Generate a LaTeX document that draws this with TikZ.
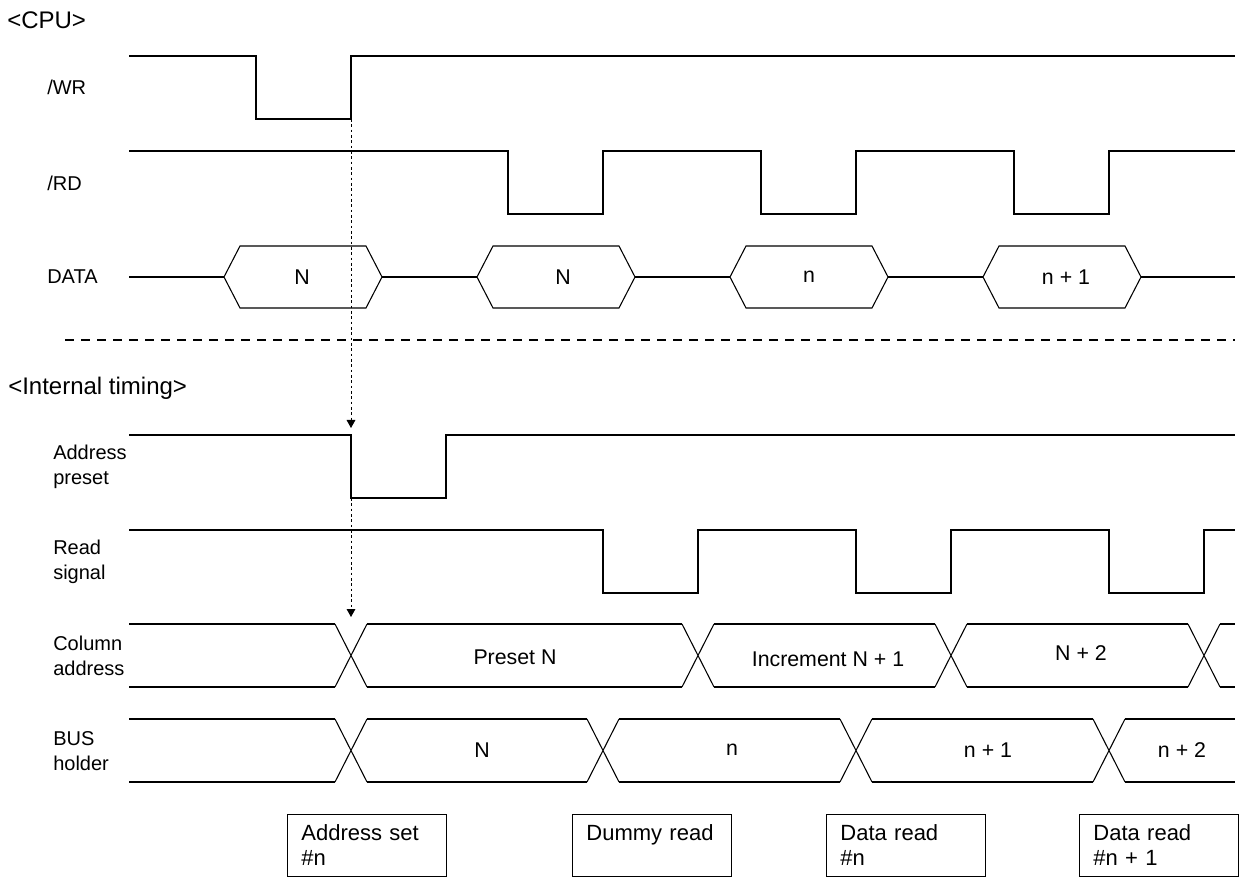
\documentclass[tikz,border=0pt]{standalone}
\usepackage{fontspec}
\setmainfont{Liberation Sans}
\usetikzlibrary{arrows.meta}

\begin{document}
\begin{tikzpicture}[
    x=0.75pt, y=-0.75pt,
    sig/.style={draw=black, line width=0.8pt},
    head/.style={anchor=west, inner sep=0pt, font=\fontsize{18}{21}\selectfont},
    lbl/.style={anchor=west, inner sep=0pt, align=left, font=\fontsize{15}{18.75}\selectfont},
    val/.style={inner sep=0pt, font=\fontsize{16}{19}\selectfont},
    sepline/.style={line width=0.8pt, dash pattern=on 7pt off 5pt},
    dotarr/.style={line width=0.7pt, dash pattern=on 2pt off 2pt,
                   -{Triangle[length=6pt,width=6.5pt]}},
    box/.style={draw, line width=0.6pt, anchor=north west, minimum width=118.5pt,
                minimum height=46.5pt, text width=98pt, inner xsep=10.5pt, align=left,
                font=\fontsize{16.5}{18.75}\selectfont},
  ]
  \useasboundingbox (0,0) rectangle (1240,877);

  % CPU side
  \node[head] (cpu) at (7,20) {<CPU>};
  \node[lbl] (wr)   at (47,87)  {/WR};
  \node[lbl] (rd)   at (47,183) {/RD};
  \node[lbl] (data) at (47,277) {DATA};

  \draw[sig] (129,56) -- (256,56) -- (256,119) -- (351,119) -- (351,56) -- (1235,56);
  \draw[sig] (129,151) -- (508,151) -- (508,214) -- (603,214) -- (603,151)
    -- (761,151) -- (761,214) -- (856,214) -- (856,151)
    -- (1014,151) -- (1014,214) -- (1109,214) -- (1109,151) -- (1235,151);

  \draw[sig] (129,277) -- (224,277);
  \draw[sig] (224,277) -- (240,246) -- (366,246) -- (382,277) -- (366,308) -- (240,308) -- cycle;
  \draw[sig] (382,277) -- (477,277);
  \draw[sig] (477,277) -- (493,246) -- (619,246) -- (635,277) -- (619,308) -- (493,308) -- cycle;
  \draw[sig] (635,277) -- (730,277);
  \draw[sig] (730,277) -- (746,246) -- (872,246) -- (888,277) -- (872,308) -- (746,308) -- cycle;
  \draw[sig] (888,277) -- (983,277);
  \draw[sig] (983,277) -- (999,246) -- (1125,246) -- (1141,277) -- (1125,308) -- (999,308) -- cycle;
  \draw[sig] (1141,277) -- (1235,277);
  \node[val] (d1) at (302,277)  {N};
  \node[val] (d2) at (563,277)  {N};
  \node[val] (d3) at (809,277)  {n};
  \node[val] (d4) at (1066,277) {n + 1};

  \draw[sepline] (65,340) -- (1235,340);

  % internal side
  \node[head] (intl) at (8,388) {<Internal timing>};
  \node[lbl] (ap) at (53,467) {Address\\preset};
  \node[lbl] (rs) at (53,562) {Read\\signal};
  \node[lbl] (ca) at (53,656) {Column\\address};
  \node[lbl] (bh) at (53,751) {BUS\\holder};

  \draw[sig] (129,435) -- (351,435) -- (351,498) -- (446,498) -- (446,435) -- (1235,435);
  \draw[sig] (129,530) -- (603,530) -- (603,593) -- (698,593) -- (698,530)
    -- (856,530) -- (856,593) -- (951,593) -- (951,530)
    -- (1109,530) -- (1109,593) -- (1204,593) -- (1204,530) -- (1235,530);

  \draw[sig] (129,624) -- (335,624) (129,687) -- (335,687);
  \draw[sig] (335,624) -- (367,687) (335,687) -- (367,624);
  \draw[sig] (367,624) -- (682,624) (367,687) -- (682,687);
  \draw[sig] (682,624) -- (714,687) (682,687) -- (714,624);
  \draw[sig] (714,624) -- (935,624) (714,687) -- (935,687);
  \draw[sig] (935,624) -- (967,687) (935,687) -- (967,624);
  \draw[sig] (967,624) -- (1188,624) (967,687) -- (1188,687);
  \draw[sig] (1188,624) -- (1220,687) (1188,687) -- (1220,624);
  \draw[sig] (1220,624) -- (1235,624) (1220,687) -- (1235,687);
  \node[val] (c1) at (515,657)  {Preset N};
  \node[val] (c2) at (828,659)  {Increment N + 1};
  \node[val] (c3) at (1081,653) {N + 2};

  \draw[sig] (129,719) -- (335,719) (129,782) -- (335,782);
  \draw[sig] (335,719) -- (367,782) (335,782) -- (367,719);
  \draw[sig] (367,719) -- (587,719) (367,782) -- (587,782);
  \draw[sig] (587,719) -- (619,782) (587,782) -- (619,719);
  \draw[sig] (619,719) -- (840,719) (619,782) -- (840,782);
  \draw[sig] (840,719) -- (872,782) (840,782) -- (872,719);
  \draw[sig] (872,719) -- (1093,719) (872,782) -- (1093,782);
  \draw[sig] (1093,719) -- (1125,782) (1093,782) -- (1125,719);
  \draw[sig] (1125,719) -- (1235,719) (1125,782) -- (1235,782);
  \node[val] (b1) at (482,750)  {N};
  \node[val] (b2) at (732,750)  {n};
  \node[val] (b3) at (988,750)  {n + 1};
  \node[val] (b4) at (1182,750) {n + 2};

  \coordinate (wrrise) at (351,119);
  \coordinate (aptip)  at (351,428);
  \coordinate (apfall) at (351,498);
  \coordinate (catip)  at (351,617);
  \draw[dotarr] (wrrise) -- (aptip);
  \draw[dotarr] (apfall) -- (catip);

  \node[box] (set)   at (287,814)  {Address set\\\#n};
  \node[box] (dummy) at (572,814)  {Dummy read\\~};
  \node[box] (rdn)   at (826,814)  {Data read\\\#n};
  \node[box] (rdn1)  at (1079,814) {Data read\\\#n + 1};
\end{tikzpicture}
\end{document}
